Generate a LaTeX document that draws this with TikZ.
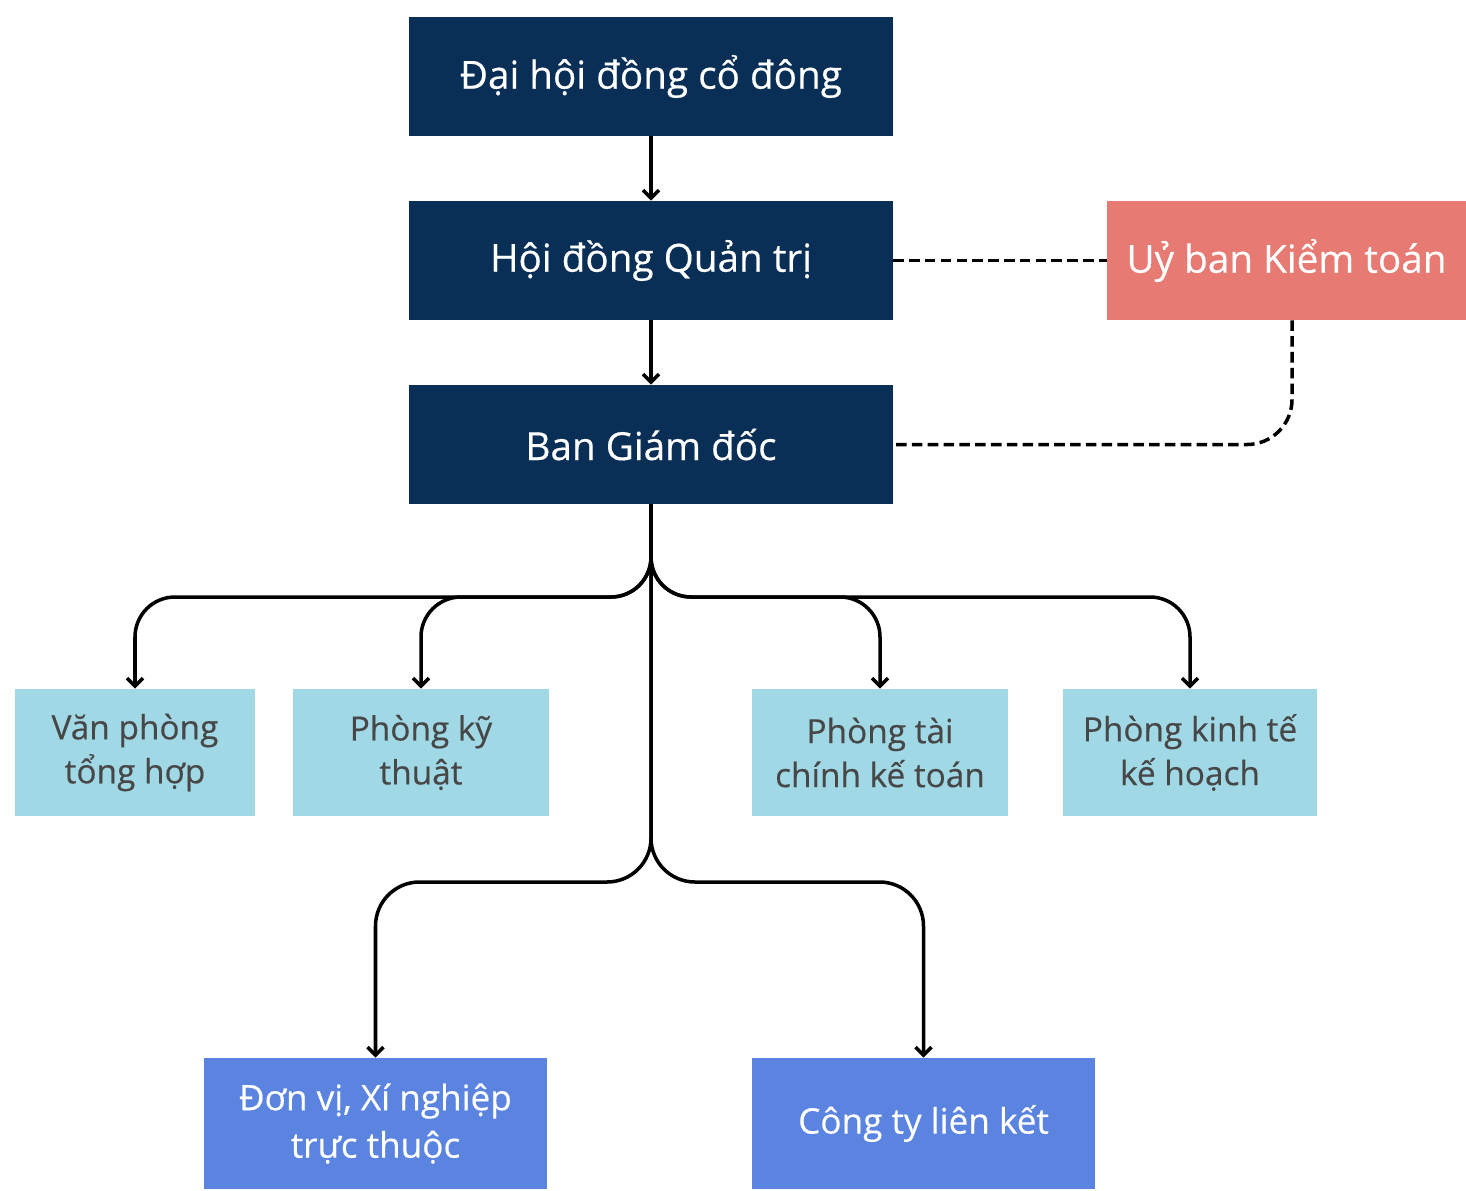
\documentclass[tikz,border=0pt]{standalone}
\usepackage{fontspec}
\setmainfont{Open Sans}
\newfontfamily\boxfont[FakeBold=0.35]{Open Sans}
\usepackage{xcolor}
\usetikzlibrary{arrows.meta}
\definecolor{navy}{HTML}{0A2F57}
\definecolor{salmon}{HTML}{E77A72}
\definecolor{skyblue}{HTML}{A0D8E6}
\definecolor{midblue}{HTML}{5B84E0}
\definecolor{greytext}{HTML}{474747}

\begin{document}
\begin{tikzpicture}[x=0.02cm,y=-0.02cm,
    darkbox/.style={fill=navy,text=white,minimum width=9.68cm,minimum height=2.38cm,
      font=\boxfont\fontsize{22}{26}\selectfont},
    auditbox/.style={fill=salmon,text=white,minimum width=7.18cm,minimum height=2.38cm,
      font=\boxfont\fontsize{22}{26}\selectfont},
    deptbox/.style={fill=skyblue,text=greytext,minimum height=2.54cm,align=center,
      font=\boxfont\fontsize{19}{25}\selectfont},
    unitbox/.style={fill=midblue,text=white,minimum width=6.86cm,minimum height=2.62cm,
      align=center,font=\boxfont\fontsize{20}{27}\selectfont},
    link/.style={line width=2pt,-{Straight Barb[length=0.16cm,width=0.32cm]},rounded corners=0.8cm},
    dashlink/.style={line width=2pt,dash pattern=on 6pt off 3pt,rounded corners=0.9cm}]
  \useasboundingbox (0,0) rectangle (1466,1190);

  \node [darkbox] (dhcd) at (651,76.5) {Đại hội đồng cổ đông};
  \node [darkbox] (hdqt) at (651,260.5) {Hội đồng Quản trị};
  \node [darkbox] (bgd) at (651,444.5) {Ban Giám đốc};
  \node [auditbox] (ubkt) at (1286.5,260.5) {Uỷ ban Kiểm toán};

  \node [deptbox,minimum width=4.8cm] (vpth) at (135,752.5) {Văn phòng\\tổng hợp};
  \node [deptbox,minimum width=5.12cm] (pkt) at (421,752.5) {Phòng kỹ\\thuật};
  \node [deptbox,minimum width=5.12cm] (ptc) at (880,752.5) {Phòng tài\\chính kế toán};
  \node [deptbox,minimum width=5.08cm] (pkh) at (1190,752.5) {Phòng kinh tế\\kế hoạch};

  \node [unitbox] (dvxn) at (375.5,1123.5) {Đơn vị, Xí nghiệp\\trực thuộc};
  \node [unitbox] (ctlk) at (923.5,1123.5) {Công ty liên kết};

  \draw [link] (dhcd) -- (hdqt);
  \draw [link] (hdqt) -- (bgd);
  \draw [dashlink] (hdqt) -- (ubkt);
  \draw [dashlink] ([xshift=0.11cm]ubkt.south) |- (bgd.east);

  \draw [link] (bgd.south) -- (651,597) -| (vpth.north);
  \draw [link] (bgd.south) -- (651,597) -| (pkt.north);
  \draw [link] (bgd.south) -- (651,597) -| (ptc.north);
  \draw [link] (bgd.south) -- (651,597) -| (pkh.north);
  \draw [link,rounded corners=0.88cm] (bgd.south) -- (651,882) -| (dvxn.north);
  \draw [link,rounded corners=0.88cm] (bgd.south) -- (651,882) -| (ctlk.north);
\end{tikzpicture}
\end{document}
